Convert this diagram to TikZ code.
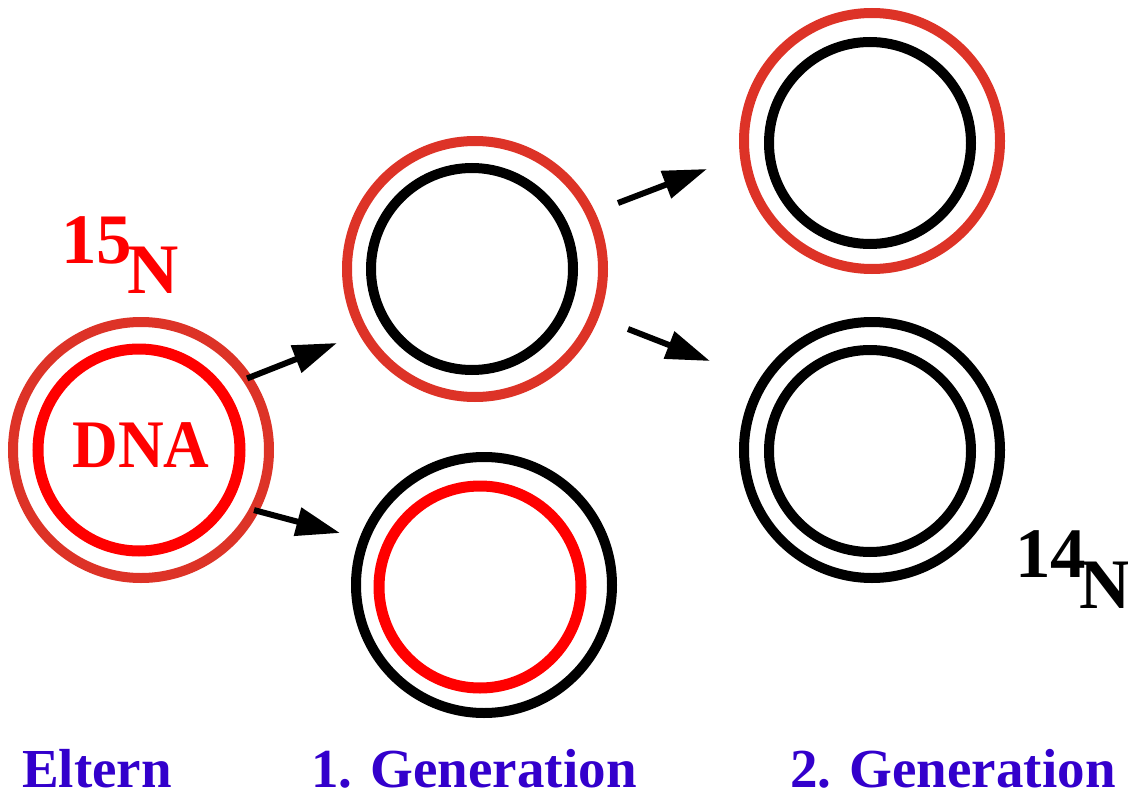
\documentclass[tikz,border=0pt]{standalone}
\usepackage{fontspec}
\setmainfont{Liberation Serif}
\usetikzlibrary{arrows.meta}
\definecolor{ringred}{RGB}{221,51,39}
\definecolor{purered}{RGB}{255,0,0}
\definecolor{labelblue}{RGB}{51,0,204}
\tikzset{
  ring/.style={circle, draw, line width=10pt, inner sep=0pt, outer sep=0pt},
  outerring/.style={ring, minimum size=256pt},
  innerring/.style={ring, minimum size=202pt},
  arr/.style={line width=6pt, -{Triangle[length=44pt,width=28pt]}},
  genlabel/.style={anchor=base west, inner sep=0pt, text=labelblue, font=\fontsize{55}{55}\selectfont\bfseries},
  isolabel/.style={anchor=base west, inner sep=0pt, font=\fontsize{71}{71}\selectfont\bfseries}
}
\begin{document}
\begin{tikzpicture}[x=1pt,y=-1pt]
\path[use as bounding box] (0,0) rectangle (1128,792);
% parent
\node[outerring, draw=ringred] (po) at (141,450) {};
\node[innerring, draw=purered, line width=11pt] (pi) at (139,450) {};
\node[anchor=base, inner sep=0pt, text=purered, font=\fontsize{68}{68}\selectfont\bfseries, xscale=0.93] (dna) at (141,467) {DNA};
% generation 1
\node[outerring, draw=ringred] (ato) at (475,269) {};
\node[innerring, draw=black] (ati) at (472,269) {};
\node[outerring, draw=black] (abo) at (484,585) {};
\node[innerring, draw=purered, line width=11pt] (abi) at (480,587) {};
% generation 2
\node[outerring, draw=ringred] (bto) at (872,141) {};
\node[innerring, draw=black] (bti) at (870,143) {};
\node[outerring, draw=black] (bbo) at (872,450) {};
\node[innerring, draw=black] (bbi) at (870,451) {};
% arrow end points
\coordinate (e1) at (337,343);
\coordinate (e2) at (340,533);
\coordinate (e3) at (707,169);
\coordinate (e4) at (710,361);
\draw[arr] (po.34.5) -- (e1);
\draw[arr] (po.-28) -- (e2);
\draw[arr] ([shift={(143,-66)}]ato.center) -- (e3);
\draw[arr] ([shift={(153,60)}]ato.center) -- (e4);
% isotope labels
\node[isolabel, text=purered] (n15) at (61,263) {15\kern-5pt\raisebox{-30pt}{N}};
\node[isolabel, text=black] (n14) at (1015,577) {14\kern-7pt\raisebox{-31pt}{N}};
% generation labels
\node[genlabel] (l0) at (22,787) {Eltern};
\node[genlabel] (l1) at (311,787) {1. Generation};
\node[genlabel] (l2) at (790,787) {2. Generation};
\end{tikzpicture}
\end{document}
